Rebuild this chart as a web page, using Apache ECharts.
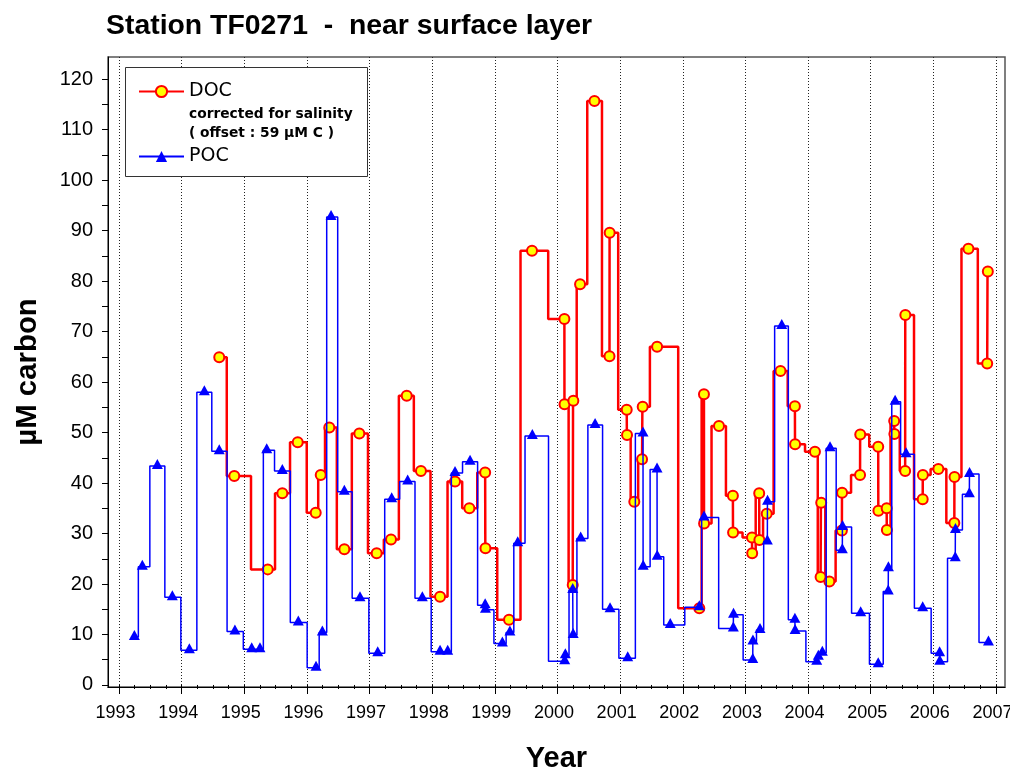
<!DOCTYPE html>
<html><head><meta charset="utf-8">
<script src="https://cdn.jsdelivr.net/npm/echarts@6/dist/echarts.min.js"></script>
<style>html,body{margin:0;padding:0;background:#fff}#c{width:1010px;height:769px}</style>
</head><body><div id="c"></div>
<script>
// ---- data ----
const docYears = [1994.60,1994.84,1995.374,1995.607,1995.853,1996.14,1996.22,1996.357,1996.597,1996.836,1997.113,1997.342,1997.593,1997.82,1998.125,1998.364,1998.593,1998.845,1998.85,1999.226,1999.593,2000.11,2000.112,2000.243,2000.253,2000.36,2000.59,2000.83,2000.833,2001.105,2001.11,2001.226,2001.35,2001.36,2001.59,2002.264,2002.338,2002.34,2002.578,2002.80,2002.803,2003.105,2003.108,2003.22,2003.223,2003.34,2003.56,2003.79,2003.793,2004.11,2004.20,2004.21,2004.34,2004.54,2004.543,2004.83,2004.833,2005.12,2005.123,2005.255,2005.258,2005.375,2005.378,2005.55,2005.553,2005.83,2005.833,2006.08,2006.335,2006.338,2006.56,2006.86,2006.87];
const docValues = [64.9,41.4,22.9,38.0,48.1,34.1,41.6,51.0,26.9,49.8,26.1,28.8,57.3,42.4,17.5,40.3,35.0,42.1,27.1,12.9,86.0,72.5,55.6,19.8,56.3,79.4,115.7,65.1,89.6,54.5,49.5,36.3,44.7,55.1,67.0,15.2,57.6,32.0,51.3,37.5,30.2,29.2,26.1,38.0,28.7,33.9,62.2,55.2,47.7,46.2,21.4,36.1,20.5,30.6,38.1,41.6,49.6,47.2,34.5,35.0,30.7,52.3,49.7,42.4,73.3,36.8,41.6,42.8,32.1,41.2,86.4,63.7,81.9];
const pocYears = [1993.245,1993.372,1993.612,1993.851,1994.123,1994.362,1994.60,1994.85,1995.118,1995.25,1995.358,1995.607,1995.862,1996.145,1996.246,1996.385,1996.597,1996.847,1997.13,1997.353,1997.608,1997.842,1998.125,1998.247,1998.364,1998.604,1998.845,1998.85,1999.12,1999.24,1999.365,1999.598,2000.115,2000.125,2000.243,2000.25,2000.37,2000.60,2000.839,2001.121,2001.365,2001.368,2001.589,2001.592,2001.80,2002.264,2002.339,2002.807,2002.81,2003.117,2003.12,2003.233,2003.35,2003.353,2003.58,2003.79,2003.793,2004.138,2004.164,2004.228,2004.351,2004.547,2004.55,2004.84,2005.12,2005.28,2005.283,2005.39,2005.565,2005.83,2006.10,2006.103,2006.35,2006.353,2006.575,2006.578,2006.88];
const pocValues = [9.5,23.4,43.4,17.4,6.9,58.0,46.3,10.6,7.1,7.1,46.5,42.4,12.4,3.4,10.4,92.7,38.3,17.2,6.3,36.8,40.3,17.2,6.6,6.6,42.0,44.2,15.8,14.9,8.2,10.4,28.1,49.3,4.7,5.9,18.8,9.9,29.0,51.5,15.0,5.3,49.8,23.4,42.7,25.4,11.9,15.4,33.2,11.2,13.9,4.95,8.6,10.9,28.4,36.3,71.1,12.9,10.7,4.6,5.6,6.4,46.9,26.7,31.3,14.2,4.1,18.5,23.1,56.1,45.7,15.2,6.3,4.6,25.1,30.7,37.8,41.8,8.4];
const yearTicks = [1993,1994,1995,1996,1997,1998,1999,2000,2001,2002,2003,2004,2005,2006,2007];
const yLabelValues = [0,10,20,30,40,50,60,70,80,90,100,110,120];
const yTickValues = [0,5,10,15,20,25,30,35,40,45,50,55,60,65,70,75,80,85,90,95,100,105,110,115,120];
const quarterTicks = [];
yearTicks.forEach(function (y) { [0, 0.25, 0.5, 0.75].forEach(function (q) { if (y + q <= 2007) quarterTicks.push(y + q); }); });

const docData = docYears.map(function (x, i) { return [x, docValues[i]]; });
const pocData = pocYears.map(function (x, i) { return [x, pocValues[i]]; });

const X_MIN = 1992.824, X_MAX = 2007.144;
const chart = echarts.init(document.getElementById('c'), null, {renderer: 'canvas'});
chart.setOption({
  animation: false,
  backgroundColor: '#fff',
  title: {
    text: 'Station TF0271  -  near surface layer',
    left: 106, top: 12, padding: 0,
    textStyle: {fontSize: 28.4, fontWeight: 'bold', fontFamily: 'Liberation Sans', color: '#000'}
  },
  grid: {left: 108, right: 5, top: 57, bottom: 82, show: true, borderColor: '#555', borderWidth: 1.5,
    backgroundColor: '#fff', containLabel: false, outerBoundsMode: 'none'},
  legend: {
    orient: 'vertical', left: 126, top: 67,
    padding: [15, 14, 12, 12],
    itemWidth: 45, itemHeight: 14, itemGap: 46,
    textStyle: {fontSize: 19, fontFamily: 'DejaVu Sans', color: '#000'},
    data: ['DOC', 'POC'], z: 20
  },
  graphic: [
    {type: 'rect', z: 15, shape: {x: 125.5, y: 67.5, width: 242, height: 109},
      style: {fill: '#fff', stroke: '#333', lineWidth: 1}},
    {type: 'text', left: 189, top: 107, z: 100, style: {text: 'corrected for salinity', font: 'bold 13.8px "DejaVu Sans"', fill: '#000'}},
    {type: 'text', left: 189, top: 126, z: 100, style: {text: '( offset : 59 \u00b5M C )', font: 'bold 13.8px "DejaVu Sans"', fill: '#000'}}
  ],
  xAxis: [{
    type: 'value', min: X_MIN, max: X_MAX, position: 'bottom',
    axisLine: {show: true, onZero: false, lineStyle: {color: '#000', width: 1}},
    axisTick: {show: true, customValues: yearTicks, length: 7, lineStyle: {color: '#000'}},
    axisLabel: {customValues: yearTicks, margin: 17, fontSize: 18, fontFamily: 'Liberation Sans', color: '#000',
      padding: [0, 7, 0, 0],
      formatter: function (v) { return String(Math.round(v)); }},
    splitLine: {show: true, lineStyle: {type: [1, 2], color: '#222', width: 1}},
    name: 'Year', nameLocation: 'middle', nameGap: 57,
    nameTextStyle: {fontSize: 29, fontWeight: 'bold', fontFamily: 'Liberation Sans', color: '#000'}
  }, {
    type: 'value', min: X_MIN, max: X_MAX, position: 'bottom',
    axisLine: {show: false},
    axisTick: {show: true, customValues: quarterTicks, length: 4, lineStyle: {color: '#000'}},
    axisLabel: {show: false}, splitLine: {show: false}
  }],
  yAxis: {
    type: 'value', min: -0.4, max: 124.4,
    axisLine: {show: true, onZero: false, lineStyle: {color: '#000', width: 1}},
    axisTick: {show: true, customValues: yTickValues, length: 6, lineStyle: {color: '#000'}},
    axisLabel: {customValues: yLabelValues, margin: 15, fontSize: 20, fontFamily: 'Liberation Sans', color: '#000'},
    splitLine: {show: false},
    name: '\u00b5M carbon', nameLocation: 'middle', nameGap: 66, nameRotate: 90,
    nameTextStyle: {fontSize: 29.4, fontWeight: 'bold', fontFamily: 'Liberation Sans', color: '#000'}
  },
  series: [{
    type: 'line', name: 'DOC', data: docData, step: 'middle',
    symbol: 'circle', symbolSize: 10, showAllSymbol: true,
    lineStyle: {color: '#ff0000', width: 2.5},
    itemStyle: {color: '#ffff00', borderColor: '#ff0000', borderWidth: 2},
    z: 3
  }, {
    type: 'line', name: 'POC', data: pocData, step: 'middle',
    symbol: 'triangle', symbolSize: [11, 10], symbolOffset: [0, -2], showAllSymbol: true,
    lineStyle: {color: '#0000ff', width: 1.5},
    itemStyle: {color: '#0000ff'},
    z: 4
  }]
});
</script></body></html>
